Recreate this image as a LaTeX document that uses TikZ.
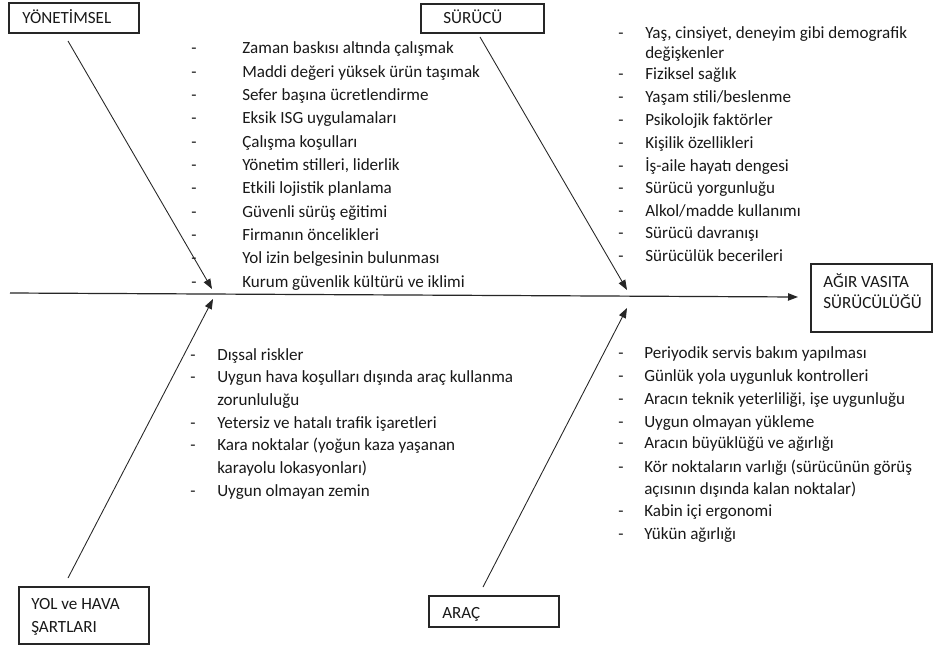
\documentclass[tikz,border=0pt]{standalone}
\usepackage{fontspec}
\setmainfont{Carlito}
\usetikzlibrary{arrows.meta}
\tikzset{
  boxn/.style={draw=black!85, line width=1pt, rectangle, inner sep=0pt},
  lbl/.style={anchor=base west, inner sep=0pt, font=\fontsize{12.8}{15}\selectfont, text=black!90},
  itm/.style={anchor=base west, inner sep=0pt, font=\fontsize{12.8}{15}\selectfont, text=black!90},
  dsh/.style={anchor=base west, inner sep=0pt, font=\fontsize{12.8}{15}\selectfont, text=black!90},
  bone/.style={draw=black!85, line width=0.65pt, -{Triangle[length=7.5pt,width=5.5pt]}},
  spine/.style={draw=black!85, line width=0.9pt, -{Triangle[length=7.5pt,width=5.5pt]}}
}
\newcommand\fbitem[5]{%
  \node[dsh] (#1d) at (#2,#4+5) {-};
  \node[itm] (#1) at (#3,#4+5) {#5};}
\newcommand\fbcont[4]{%
  \node[itm] (#1) at (#2,#3+5) {#4};}
\begin{document}
\begin{tikzpicture}[x=0.75pt,y=-0.75pt]
\fill[white] (0,0) rectangle (934,646);
\useasboundingbox (0,0) rectangle (934,646);

% boxes
\node[boxn, minimum width=130*0.75pt, minimum height=30*0.75pt] (bY) at (74,18) {};
\node[lbl] (tY) at (22,18+5) {YÖNETİMSEL};
\node[boxn, minimum width=123*0.75pt, minimum height=29*0.75pt] (bS) at (482.5,18.5) {};
\node[lbl] (tS) at (443,18+5) {SÜRÜCÜ};
\node[boxn, minimum width=121*0.75pt, minimum height=68*0.75pt] (bA) at (871.5,298) {};
\node[lbl] (tA1) at (823,282+5) {AĞIR VASITA};
\node[lbl] (tA2) at (823,303+5) {SÜRÜCÜLÜĞÜ};
\node[boxn, minimum width=130*0.75pt, minimum height=57*0.75pt] (bL) at (84,615.5) {};
\node[lbl] (tL1) at (31,604+5) {YOL ve HAVA};
\node[lbl] (tL2) at (31,627+5) {ŞARTLARI};
\node[boxn, minimum width=130*0.75pt, minimum height=31*0.75pt] (bR) at (494,611.5) {};
\node[lbl] (tR) at (442,613+5) {ARAÇ};

% spine and bones
\coordinate (s0) at (10,293);
\coordinate (s1) at (798,297);
\draw[spine] (s0) -- (s1);
\coordinate (y0) at (68,41);   \coordinate (y1) at (212,289);
\coordinate (u0) at (480,37);  \coordinate (u1) at (627,290);
\coordinate (l0) at (68,578);  \coordinate (l1) at (213,299);
\coordinate (r0) at (483,587); \coordinate (r1) at (627,308);
\draw[bone] (y0) -- (y1);
\draw[bone] (u0) -- (u1);
\draw[bone] (l0) -- (l1);
\draw[bone] (r0) -- (r1);

% YÖNETİMSEL items
\fbitem{a1}{191}{242}{48}{Zaman baskısı altında çalışmak}
\fbitem{a2}{191}{242}{72}{Maddi değeri yüksek ürün taşımak}
\fbitem{a3}{191}{242}{95}{Sefer başına ücretlendirme}
\fbitem{a4}{191}{242}{118}{Eksik ISG uygulamaları}
\fbitem{a5}{191}{242}{142}{Çalışma koşulları}
\fbitem{a6}{191}{242}{165}{Yönetim stilleri, liderlik}
\fbitem{a7}{191}{242}{188}{Etkili lojistik planlama}
\fbitem{a8}{191}{242}{212}{Güvenli sürüş eğitimi}
\fbitem{a9}{191}{242}{235}{Firmanın öncelikleri}
\fbitem{a10}{191}{242}{258}{Yol izin belgesinin bulunması}
\fbitem{a11}{191}{242}{282}{Kurum güvenlik kültürü ve iklimi}

% SÜRÜCÜ items
\fbitem{b1}{618}{645}{33}{Yaş, cinsiyet, deneyim gibi demografik}
\fbcont{b1c}{645}{53}{değişkenler}
\fbitem{b2}{618}{645}{74}{Fiziksel sağlık}
\fbitem{b3}{618}{645}{97}{Yaşam stili/beslenme}
\fbitem{b4}{618}{645}{120}{Psikolojik faktörler}
\fbitem{b5}{618}{645}{143}{Kişilik özellikleri}
\fbitem{b6}{618}{645}{166}{İş-aile hayatı dengesi}
\fbitem{b7}{618}{645}{188}{Sürücü yorgunluğu}
\fbitem{b8}{618}{645}{211}{Alkol/madde kullanımı}
\fbitem{b9}{618}{645}{233}{Sürücü davranışı}
\fbitem{b10}{618}{645}{256}{Sürücülük becerileri}

% YOL ve HAVA items
\fbitem{c1}{190}{217}{355}{Dışsal riskler}
\fbitem{c2}{190}{217}{377}{Uygun hava koşulları dışında araç kullanma}
\fbcont{c2c}{217}{400}{zorunluluğu}
\fbitem{c3}{190}{217}{423}{Yetersiz ve hatalı trafik işaretleri}
\fbitem{c4}{190}{217}{445}{Kara noktalar (yoğun kaza yaşanan}
\fbcont{c4c}{217}{468}{karayolu lokasyonları)}
\fbitem{c5}{190}{217}{491}{Uygun olmayan zemin}

% ARAÇ items
\fbitem{d1}{618}{644}{353}{Periyodik servis bakım yapılması}
\fbitem{d2}{618}{644}{376}{Günlük yola uygunluk kontrolleri}
\fbitem{d3}{618}{644}{399}{Aracın teknik yeterliliği, işe uygunluğu}
\fbitem{d4}{618}{644}{422}{Uygun olmayan yükleme}
\fbitem{d5}{618}{644}{443}{Aracın büyüklüğü ve ağırlığı}
\fbitem{d6}{618}{644}{467}{Kör noktaların varlığı (sürücünün görüş}
\fbcont{d6c}{644}{489}{açısının dışında kalan noktalar)}
\fbitem{d7}{618}{644}{511}{Kabin içi ergonomi}
\fbitem{d8}{618}{644}{534}{Yükün ağırlığı}
\end{tikzpicture}
\end{document}
